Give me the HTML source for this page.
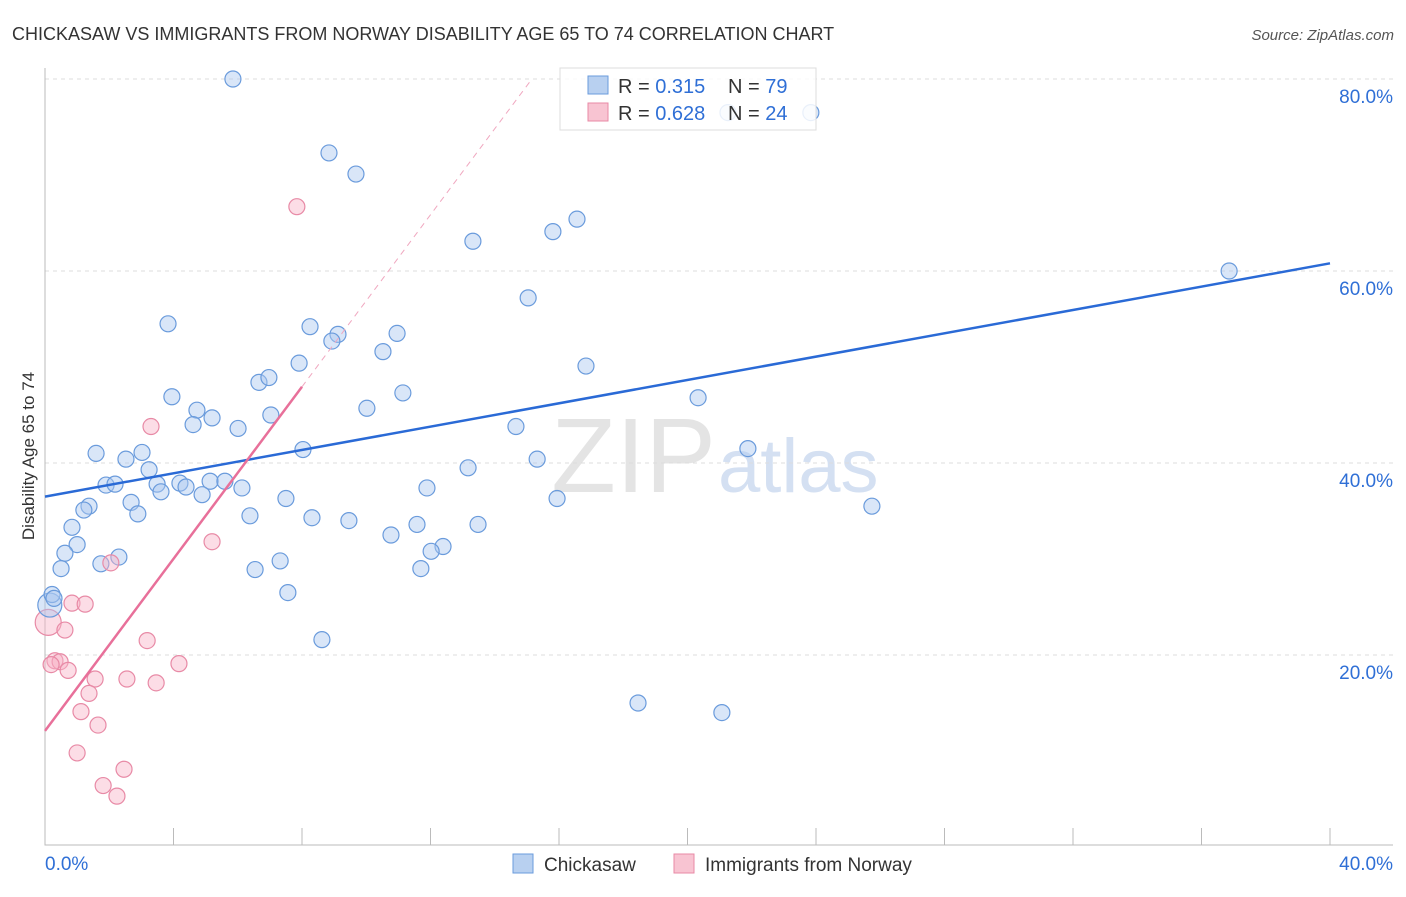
<!DOCTYPE html>
<html><head><meta charset="utf-8"><style>
body{margin:0;background:#fff;font-family:"Liberation Sans",sans-serif;}
svg text{font-family:"Liberation Sans",sans-serif;}
</style></head><body>
<svg id="chart" width="1406" height="892" xmlns="http://www.w3.org/2000/svg">
<text x="12" y="40" font-size="18" fill="#333">CHICKASAW VS IMMIGRANTS FROM NORWAY DISABILITY AGE 65 TO 74 CORRELATION CHART</text>
<text x="1394" y="40" font-size="15" fill="#555" text-anchor="end" font-style="italic">Source: ZipAtlas.com</text>
<text transform="translate(34,456) rotate(-90)" font-size="17" fill="#333" text-anchor="middle">Disability Age 65 to 74</text>
<text x="716" y="492" font-size="106" text-anchor="end" fill="#e4e4e4" font-family="Liberation Serif">ZIP</text>
<text x="718" y="492" font-size="76" fill="#d4e0f2">atlas</text>
<g id="grid"></g><g id="marks"></g>
<g>
<rect x="560" y="68" width="256" height="62" fill="#fff" stroke="#ddd" fill-opacity="0.85"/>
<rect x="588" y="76" width="20" height="18" fill="#b8d0f0" stroke="#6a9bdc"/>
<rect x="588" y="103" width="20" height="18" fill="#f8c4d2" stroke="#e88aa6"/>
<text x="618" y="93" font-size="20" fill="#333">R = <tspan fill="#2f6fd6">0.315</tspan></text>
<text x="728" y="93" font-size="20" fill="#333">N = <tspan fill="#2f6fd6">79</tspan></text>
<text x="618" y="120" font-size="20" fill="#333">R = <tspan fill="#2f6fd6">0.628</tspan></text>
<text x="728" y="120" font-size="20" fill="#333">N = <tspan fill="#2f6fd6">24</tspan></text>
</g>
<g>
<rect x="513" y="854" width="20" height="19" fill="#b8d0f0" stroke="#6a9bdc"/>
<text x="544" y="871" font-size="19" fill="#333">Chickasaw</text>
<rect x="674" y="854" width="20" height="19" fill="#f8c4d2" stroke="#e88aa6"/>
<text x="705" y="871" font-size="19" fill="#333">Immigrants from Norway</text>
</g>
</svg>
<script>
const blueX=[5.85,8.84,9.68,13.32,15.81,16.56,23.84,36.86,15.04,3.83,8.25,9.12,8.93,10.96,10.52,7.91,16.84,6.66,6.97,11.14,3.95,20.33,4.73,10.02,5.20,7.03,4.61,6.01,14.66,1.59,3.02,8.03,2.52,21.88,15.32,3.24,13.17,1.90,2.18,3.49,4.20,4.39,3.61,5.14,5.60,6.13,4.89,11.89,7.50,2.68,1.37,1.21,15.94,25.74,2.89,6.38,8.31,9.46,0.84,11.58,13.48,10.77,1.00,0.62,2.30,12.39,12.02,1.74,7.32,0.50,6.54,11.70,7.56,0.22,0.28,8.62,18.46,21.07,21.26];
const blueY=[80.0,72.3,70.1,63.1,64.1,65.4,76.5,60.0,57.2,54.5,54.2,53.4,52.7,53.5,51.6,50.4,50.1,48.4,48.9,47.3,46.9,46.8,45.5,45.7,44.7,45.0,44.0,43.6,43.8,41.0,41.1,41.4,40.4,41.5,40.4,39.3,39.5,37.7,37.8,37.8,37.9,37.5,37.0,38.1,38.1,37.4,36.7,37.4,36.3,35.9,35.5,35.1,36.3,35.5,34.7,34.5,34.3,34.0,33.3,33.6,33.6,32.5,31.5,30.6,30.2,31.3,30.8,29.5,29.8,29.0,28.9,29.0,26.5,26.3,25.9,21.6,15.0,14.0,76.5];
const pinkX=[7.84,3.30,5.20,2.05,0.84,1.25,0.62,3.18,0.31,0.47,0.72,4.17,0.19,1.56,2.55,3.46,1.37,1.12,1.65,1.00,2.46,1.81,2.24];
const pinkY=[66.7,43.8,31.8,29.6,25.4,25.3,22.6,21.5,19.4,19.3,18.4,19.1,19.0,17.5,17.5,17.1,16.0,14.1,12.7,9.8,8.1,6.4,5.3];
const bigBlue=[0.15,25.2], bigPink=[0.1,23.4];
const blueTrend=[36.5,60.8];
const pinkTrend=[12.1,4.48];
const xTicks=["0.0%","40.0%"];
const yTicks=[20,40,60,80];
const X=v=>45+v*32.125, Y=v=>847-v*9.6;
const NS="http://www.w3.org/2000/svg";
function mk(tag,attrs,parent){const e=document.createElementNS(NS,tag);for(const k in attrs)e.setAttribute(k,attrs[k]);parent.appendChild(e);return e;}
const g=document.getElementById('grid'), m=document.getElementById('marks');
yTicks.forEach(t=>{
 const l=mk('line',{x1:45,x2:1393,y1:Y(t),y2:Y(t),stroke:'#ddd','stroke-dasharray':'4,4'},g);
 
 
 const tx=mk('text',{x:1393,y:Y(t)+24,'font-size':19,fill:'#2f6fd6','text-anchor':'end'},g);
 tx.textContent=t.toFixed(1)+'%';
 
 
});
const ax=mk('path',{d:'M45,68 V845 H1393',fill:'none',stroke:'#bbb'},g);


for(let i=0;i<=10;i++){const t=mk('line',{x1:X(i*4),x2:X(i*4),y1:828,y2:845,stroke:'#bbb'},g);
 
 }
[[0,'start',45],[40,'end',1393]].forEach((a,i)=>{const t=mk('text',{x:a[2],y:870,'font-size':19,fill:'#2f6fd6','text-anchor':a[1]},g);t.textContent=xTicks[i];
 
 });
function dot(x,y,r,fill,stroke,name){const c=mk('circle',{cx:X(x),cy:Y(y),r:r,fill:fill,stroke:stroke,'stroke-width':1.2},m);
 
 }
dot(bigPink[0],bigPink[1],13,'rgba(248,180,200,0.45)','#e88aa6','norway-point');
dot(bigBlue[0],bigBlue[1],12,'rgba(170,200,240,0.45)','#6a9bdc','chickasaw-point');
blueX.forEach((x,i)=>dot(x,blueY[i],8,'rgba(170,200,240,0.45)','#6a9bdc','chickasaw-point'));
pinkX.forEach((x,i)=>dot(x,pinkY[i],8,'rgba(248,180,200,0.45)','#e88aa6','norway-point'));
const bt=mk('line',{x1:X(0),y1:Y(blueTrend[0]),x2:X(40),y2:Y(blueTrend[1]),stroke:'#2a6ad6','stroke-width':2.5},m);


const pe=8, pd=(80-pinkTrend[0])/pinkTrend[1];
const pt=mk('line',{x1:X(0),y1:Y(pinkTrend[0]),x2:X(pe),y2:Y(pinkTrend[0]+pinkTrend[1]*pe),stroke:'#e8709a','stroke-width':2.5},m);


const pdl=mk('line',{x1:X(pe),y1:Y(pinkTrend[0]+pinkTrend[1]*pe),x2:X(pd),y2:Y(80),stroke:'#f0a8c0','stroke-width':1,'stroke-dasharray':'6,5'},m);


</script>
</body></html>
